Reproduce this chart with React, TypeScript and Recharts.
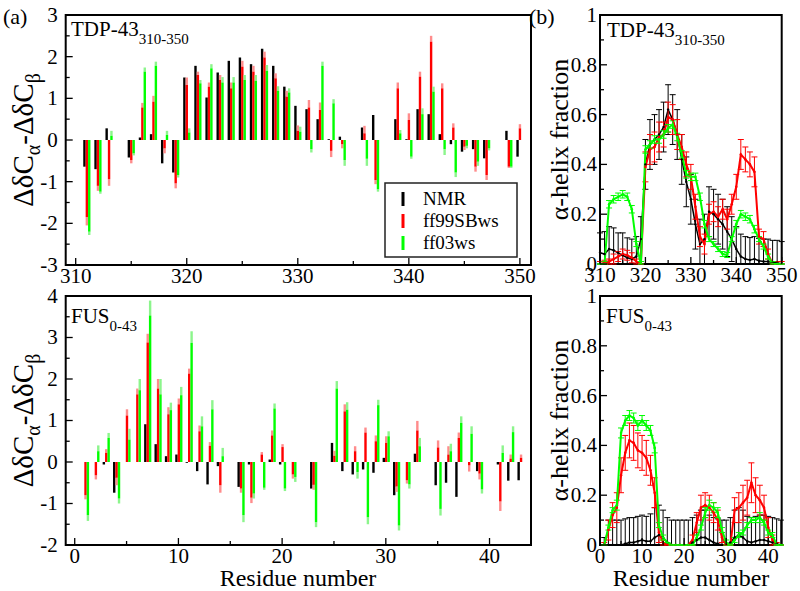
import { Bar, ComposedChart, ErrorBar, Line, ReferenceArea, XAxis, YAxis } from 'recharts';

const FONT = 'Liberation Serif, DejaVu Serif, serif';
const RED = '#ff0000';
const GREEN = '#00ff00';
const RED_ERR = '#ff8c8c';
const GREEN_ERR = '#8cf58c';

// (a) top: TDP-43 310-350, secondary chemical shifts per residue
const tdpResidues = [311, 312, 313, 315, 316, 317, 318, 319, 320, 321, 322, 323, 324, 325, 326, 327, 328, 329, 330,
  331, 332, 333, 334, 336, 337, 339, 340, 341, 342, 343, 344, 345, 346, 347, 349, 350];
const tdpNmr = [-0.64, -0.7, 0.28, -0.42, 0.06, 0.14, -0.56, -0.78, 1.5, 1.78, 1.02, 1.62, 1.9, 1.98, 1.82, 2.19, 1.78, 1.28, 0.82,
  0.74, 0.5, 0.02, 0.08, 0.3, 0.6, 0.5, 0.02, 0.74, 0.62, 0.14, -0.1, -0.28, -0.22, -0.44, 0.22, -0.4];
const tdpFf99 = [-1.85, -1.1, -0.94, -0.48, 0.78, 0.92, -0.2, -1.04, 1.32, 1.56, 1.28, 1.44, 1.24, 1.76, 1.64, 1.98, 1.48, 1.04, 0.22,
  0.78, 0.72, -0.26, -0.1, 0.16, -0.96, 1.24, 0.48, 1.52, 2.36, 1.24, 0.3, -0.16, -0.64, -0.84, -0.64, 0.28];
const tdpFf99Err = [0.2, 0.12, 0.16, 0.08, 0.11, 0.14, 0.12, 0.12, 0.18, 0.08, 0.1, 0.12, 0.14, 0.14, 0.14, 0.14, 0.12, 0.14, 0.13,
  0.18, 0.18, 0.15, 0.1, 0.18, 0.1, 0.14, 0.16, 0.12, 0.14, 0.12, 0.1, 0.08, 0.12, 0.12, 0.03, 0.1];
const tdpFf03 = [-2.2, -1.24, 0.1, -0.32, 1.64, 1.78, 0.12, -0.84, 0.18, 1.36, 1.72, 1.38, 1.38, 1.44, 1.42, 1.66, 1.18, 1.14, 0.2,
  -0.22, 1.78, 0.88, -0.48, -0.45, -1.18, 0.16, -0.4, 0.62, 1.16, -0.22, -0.78, -0.14, -0.52, -0.2, -0.64, null];
const tdpFf03Err = [0.08, 0.05, 0.12, 0.05, 0.1, 0.1, 0.1, 0.06, 0.1, 0.08, 0.1, 0.13, 0.13, 0.12, 0.14, 0.14, 0.11, 0.1, 0.12,
  0.08, 0.1, 0.1, 0.14, 0.17, 0.06, 0.08, 0.05, 0.14, 0.12, 0.14, 0.11, 0.06, 0.1, 0.05, 0.03, null];

// (a) bottom: FUS 0-43
const fusResidues = [1, 2, 3, 4, 5, 6, 7, 8, 9, 10, 11, 12, 13, 14, 16, 17, 18, 19, 20, 21, 23, 25, 26, 27, 28, 29, 30,
  31, 32, 33, 35, 36, 37, 38, 39, 41, 42, 43];
const fusNmr = [null, null, -0.06, -0.74, null, null, 0.91, 0.43, 0.14, 0.18, -0.02, -0.22, -0.54, -0.1, -0.6, -0.06, null, 0.06, -0.06, null, -0.64, 0.46, -0.22, -0.3, -0.18, -0.26, 0.1,
  -0.8, null, 0.2, -0.56, -0.5, -0.84, null, -0.22, -0.06, -0.45, -0.44];
const fusFf99 = [-0.8, -0.32, 0.22, -0.38, 1.12, 1.63, 2.88, 1.77, 1.15, 1.39, 2.13, 0.74, 0.39, -0.56, -0.64, -0.86, 0.18, 0.64, 0.36, -0.3, -0.55, 0.15, 1.22, 0.26, 0.71, 0.5, 0.46,
  -0.59, -0.44, 0.76, 0.35, 0.18, 0.58, -0.08, -0.28, -0.95, 0.08, 0.1];
const fusFf99Err = [0.1, 0.1, 0.09, 0.18, 0.15, 0.14, 0.21, 0.23, 0.17, 0.14, 0.12, 0.14, 0.09, 0.18, 0.1, 0.13, 0.06, 0.12, 0.07, 0.1, 0.12, 0.12, 0.17, 0.12, 0.12, 0.14, 0.16,
  0.13, 0.08, 0.23, 0.17, 0.2, 0.13, 0.15, 0.14, 0.23, 0.1, 0.08];
const fusFf03 = [-1.28, 0.26, 0.58, -0.88, 0.54, 1.73, 3.53, 1.63, 1.25, 1.61, 2.87, 0.86, 1.27, 0.14, -1.28, -0.76, -0.62, 1.29, -0.64, -0.36, -1.45, 1.77, 1.26, -0.24, -1.33, 1.37, 0.62,
  -1.53, -0.54, 0.38, -1.13, 0.26, 0.94, 0.68, -0.66, 0.22, 0.72, null];
const fusFf03Err = [0.14, 0.14, 0.12, 0.12, 0.26, 0.27, 0.36, 0.37, 0.18, 0.2, 0.28, 0.24, 0.22, 0.2, 0.17, 0.12, 0.05, 0.12, 0.06, 0.12, 0.12, 0.18, 0.18, 0.16, 0.17, 0.13, 0.12,
  0.12, 0.1, 0.2, 0.16, 0.18, 0.16, 0.18, 0.1, 0.18, 0.14, null];

// (b) top: helix fraction, TDP-43 310-350
const tdpHelixRes = [310, 311, 312, 313, 314, 315, 316, 317, 318, 319, 320, 321, 322, 323, 324, 325, 326, 327, 328, 329,
  330, 331, 332, 333, 334, 335, 336, 337, 338, 339, 340, 341, 342, 343, 344, 345, 346, 347, 348, 349, 350];
const tdpHelixNmr = [0.045, 0.04, 0.06, 0.055, 0.045, 0.035, 0.025, 0.02, 0.03, 0.1, 0.4, 0.48, 0.5, 0.52, 0.55, 0.62, 0.58, 0.52, 0.42, 0.33,
  0.26, 0.16, 0.08, 0.1, 0.21, 0.2, 0.18, 0.16, 0.13, 0.1, 0.06, 0.03, 0.02, 0.016, 0.02, 0.013, 0.01, 0.01, 0.005, 0.005, 0];
const tdpHelixNmrErr = [0.08, 0.09, 0.09, 0.09, 0.08, 0.09, 0.08, 0.08, 0.08, 0.09, 0.1, 0.1, 0.1, 0.1, 0.1, 0.1, 0.1, 0.1, 0.1, 0.1,
  0.1, 0.1, 0.1, 0.1, 0.1, 0.1, 0.1, 0.1, 0.1, 0.09, 0.09, 0.09, 0.09, 0.09, 0.09, 0.09, 0.09, 0.09, 0.09, 0.09, 0.09];
const tdpHelixFf99 = [0, 0.005, 0.01, 0.02, 0.03, 0.04, 0.035, 0.025, 0.01, 0, 0.39, 0.46, 0.47, 0.51, 0.52, 0.59, 0.58, 0.52, 0.47, 0.4,
  0.35, 0.23, 0.11, 0.08, 0.2, 0.21, 0.19, 0.22, 0.18, 0.24, 0.31, 0.44, 0.42, 0.4, 0.37, 0.11, 0.1, 0.04, 0, 0, 0];
const tdpHelixFf99Err = [0.01, 0.01, 0.01, 0.02, 0.02, 0.02, 0.02, 0.02, 0.01, 0.01, 0.06, 0.06, 0.06, 0.06, 0.05, 0.06, 0.06, 0.06, 0.05, 0.05,
  0.05, 0.05, 0.04, 0.04, 0.04, 0.04, 0.04, 0.04, 0.04, 0.04, 0.05, 0.06, 0.05, 0.05, 0.06, 0.03, 0.03, 0.02, 0.01, 0.01, 0.01];
const tdpHelixFf03 = [0, 0, 0.24, 0.26, 0.27, 0.28, 0.27, 0.22, 0.08, 0, 0.46, 0.48, 0.5, 0.5, 0.52, 0.545, 0.56, 0.51, 0.44, 0.36,
  0.35, 0.35, 0.27, 0.16, 0.1, 0.08, 0.06, 0.04, 0.036, 0.1, 0.16, 0.2, 0.19, 0.18, 0.14, 0.1, 0.07, 0.03, 0, 0, 0];
const tdpHelixFf03Err = [0, 0.01, 0.015, 0.015, 0.015, 0.015, 0.015, 0.015, 0.01, 0.01, 0.015, 0.015, 0.015, 0.015, 0.015, 0.015, 0.015, 0.015, 0.015, 0.015,
  0.015, 0.015, 0.015, 0.015, 0.01, 0.01, 0.01, 0.01, 0.01, 0.01, 0.015, 0.015, 0.015, 0.015, 0.015, 0.01, 0.01, 0.01, 0.01, 0, 0];

// (b) bottom: helix fraction, FUS 0-43
const fusHelixRes = [1, 2, 3, 4, 5, 6, 7, 8, 9, 10, 11, 12, 13, 14, 15, 16, 17, 18, 19, 20,
  21, 22, 23, 24, 25, 26, 27, 28, 29, 30, 31, 32, 33, 34, 35, 36, 37, 38, 39, 40, 41, 42, 43];
const fusHelixNmr = [0, 0, 0, 0, 0, 0.005, 0.01, 0.01, 0.015, 0.02, 0.015, 0.015, 0.03, 0.04, 0.03, 0.01, 0, 0, 0, 0,
  0, 0.01, 0.02, 0.03, 0.03, 0.02, 0.01, 0.005, 0, 0, 0.01, 0.03, 0.04, 0.03, 0.015, 0.01, 0.015, 0.02, 0.02, 0.015, 0.01, 0.005, 0];
const fusHelixNmrErr = [0.03, 0.1, 0.1, 0.1, 0.1, 0.1, 0.1, 0.1, 0.1, 0.1, 0.1, 0.11, 0.12, 0.12, 0.11, 0.1, 0.1, 0.1, 0.1, 0.1,
  0.1, 0.1, 0.1, 0.11, 0.11, 0.1, 0.1, 0.1, 0.1, 0.1, 0.1, 0.11, 0.11, 0.11, 0.1, 0.1, 0.1, 0.1, 0.1, 0.1, 0.1, 0.1, 0.1];
const fusHelixFf99 = [0, 0.06, 0.12, 0.15, 0.28, 0.37, 0.42, 0.41, 0.38, 0.37, 0.35, 0.3, 0.21, 0.05, 0.01, 0, 0, 0, 0, 0,
  0, 0.02, 0.09, 0.15, 0.16, 0.15, 0.13, 0.1, 0.03, 0, 0, 0.14, 0.15, 0.17, 0.19, 0.25, 0.2, 0.18, 0.15, 0.07, 0.02, 0, 0];
const fusHelixFf99Err = [0.01, 0.04, 0.05, 0.06, 0.07, 0.07, 0.07, 0.07, 0.07, 0.07, 0.07, 0.06, 0.06, 0.04, 0.01, 0, 0, 0, 0, 0,
  0, 0.02, 0.04, 0.05, 0.05, 0.05, 0.04, 0.04, 0.02, 0, 0, 0.05, 0.06, 0.07, 0.07, 0.08, 0.07, 0.06, 0.05, 0.04, 0.02, 0.01, 0];
const fusHelixFf03 = [0, 0.07, 0.14, 0.16, 0.45, 0.5, 0.52, 0.51, 0.48, 0.5, 0.48, 0.46, 0.39, 0.08, 0.03, 0.01, 0, 0, 0, 0,
  0, 0, 0.03, 0.07, 0.13, 0.16, 0.15, 0.13, 0.06, 0.01, 0, 0.02, 0.04, 0.05, 0.08, 0.1, 0.1, 0.11, 0.09, 0.05, 0.04, 0, 0];
const fusHelixFf03Err = [0, 0.01, 0.01, 0.02, 0.02, 0.02, 0.02, 0.02, 0.02, 0.02, 0.02, 0.02, 0.02, 0.01, 0.01, 0, 0, 0, 0, 0,
  0, 0, 0.01, 0.01, 0.02, 0.02, 0.02, 0.02, 0.01, 0.01, 0, 0.01, 0.01, 0.01, 0.01, 0.01, 0.01, 0.02, 0.01, 0.01, 0.01, 0, 0];

const shiftTicksTdp = [310, 315, 320, 325, 330, 335, 340, 345, 350];
const shiftTicksFus = [0, 5, 10, 15, 20, 25, 30, 35, 40];
const yTicksTdp = [-3, -2.5, -2, -1.5, -1, -0.5, 0, 0.5, 1, 1.5, 2, 2.5, 3];
const yTicksFus = [-2, -1.5, -1, -0.5, 0, 0.5, 1, 1.5, 2, 2.5, 3, 3.5, 4];
const helixTicks = [0, 0.1, 0.2, 0.3, 0.4, 0.5, 0.6, 0.7, 0.8, 0.9, 1];

const tdpBars = tdpResidues.map((r, i) => ({
  r, nmr: tdpNmr[i], ff99: tdpFf99[i], ff99Err: tdpFf99Err[i], ff03: tdpFf03[i], ff03Err: tdpFf03Err[i],
}));
const fusBars = fusResidues.map((r, i) => ({
  r, nmr: fusNmr[i], ff99: fusFf99[i], ff99Err: fusFf99Err[i], ff03: fusFf03[i], ff03Err: fusFf03Err[i],
}));

// error bars stop at 0 (the axis floor), so keep the lower arm no longer than the value
const helixRows = (res: number[], a: number[], ae: number[], b: number[], be: number[], c: number[], ce: number[]) =>
  res.map((r, i) => ({
    r,
    nmr: a[i], nmrE: [Math.min(a[i], ae[i]), ae[i]],
    ff99: b[i], ff99E: [Math.min(b[i], be[i]), be[i]],
    ff03: c[i], ff03E: [Math.min(c[i], ce[i]), ce[i]],
  }));
const tdpHelix = helixRows(tdpHelixRes, tdpHelixNmr, tdpHelixNmrErr, tdpHelixFf99, tdpHelixFf99Err, tdpHelixFf03, tdpHelixFf03Err);
const fusHelix = helixRows(fusHelixRes, fusHelixNmr, fusHelixNmrErr, fusHelixFf99, fusHelixFf99Err, fusHelixFf03, fusHelixFf03Err);

const txt = { fontFamily: FONT };

// bar plus a lighter extension for the error at its tip
function barShape(key: string, errKey: string | null, errColor: string) {
  return (p: any) => {
    const v = p.payload?.[key];
    if (v == null || !isFinite(p.height)) return <g />;
    const top = Math.min(p.y, p.y + p.height);
    const h = Math.abs(p.height);
    let ext = null;
    const e = errKey ? p.payload[errKey] : null;
    if (e && v !== 0 && h > 0) {
      const len = (e * h) / Math.abs(v);
      ext = <rect x={p.x} y={v > 0 ? top - len : top + h} width={p.width} height={len} fill={errColor} />;
    }
    return (
      <g>
        {ext}
        <rect x={p.x} y={top} width={p.width} height={h} fill={p.fill} />
      </g>
    );
  };
}

function xTick(isMajor: (v: number) => boolean) {
  return (p: any) => {
    const v = p.payload.value as number;
    const major = isMajor(v);
    return (
      <g>
        <line x1={p.x} x2={p.x} y1={p.y} y2={p.y - (major ? 7 : 4)} stroke="#000" strokeWidth={1.3} />
        {major && (
          <text x={p.x} y={p.y + 18} textAnchor="middle" style={txt} fontSize={21} fill="#000">{v}</text>
        )}
      </g>
    );
  };
}

function yTick(isMajor: (v: number) => boolean, gap: number, fmt: (v: number) => string) {
  return (p: any) => {
    const v = p.payload.value as number;
    const major = isMajor(v);
    return (
      <g>
        <line x1={p.x} x2={p.x + (major ? 7 : 4)} y1={p.y} y2={p.y} stroke="#000" strokeWidth={1.3} />
        {major && (
          <text x={p.x - gap} y={p.y} dy="0.33em" textAnchor="end" style={txt} fontSize={21} fill="#000">{fmt(v)}</text>
        )}
      </g>
    );
  };
}

const isTen = (v: number) => Math.abs(v % 10) < 1e-6;
const isInt = (v: number) => Math.abs(v - Math.round(v)) < 1e-6;
const isFifth = (v: number) => Math.round(v * 10) % 2 === 0;
const fmtHelix = (v: number) => (v === 0 ? '0' : v === 1 ? '1' : v.toFixed(1));

interface ShiftProps {
  rows: any[];
  top: number;
  xDomain: [number, number];
  xTicks: number[];
  yDomain: [number, number];
  yTicks: number[];
}

function ShiftPanel({ rows, top, xDomain, xTicks, yDomain, yTicks }: ShiftProps) {
  return (
    <ComposedChart width={545} height={300} data={rows} barGap={0} margin={{ top, right: 14, bottom: 5, left: 0 }}>
      <XAxis type="number" dataKey="r" domain={xDomain} ticks={xTicks} interval={0} height={300 - 5 - top - (top === 15 ? 250 : 249)}
        axisLine={false} tickLine={false} tickSize={0} tickMargin={0} tick={xTick(isTen)} />
      <YAxis type="number" domain={yDomain} ticks={yTicks} interval={0} width={65.7}
        axisLine={false} tickLine={false} tickSize={0} tickMargin={0} tick={yTick(isInt, 8, (v) => String(v))} />
      <Bar dataKey="nmr" fill="#000" barSize={2.4} isAnimationActive={false} shape={barShape('nmr', null, '')} />
      <Bar dataKey="ff99" fill={RED} barSize={2.4} isAnimationActive={false} shape={barShape('ff99', 'ff99Err', RED_ERR)} />
      <Bar dataKey="ff03" fill={GREEN} barSize={2.4} isAnimationActive={false} shape={barShape('ff03', 'ff03Err', GREEN_ERR)} />
      <ReferenceArea x1={xDomain[0]} x2={xDomain[1]} y1={yDomain[0]} y2={yDomain[1]} fill="none" fillOpacity={0}
        stroke="#000" strokeWidth={2} ifOverflow="visible" />
    </ComposedChart>
  );
}

interface HelixProps {
  rows: any[];
  top: number;
  xDomain: [number, number];
  xTicks: number[];
}

function HelixPanel({ rows, top, xDomain, xTicks }: HelixProps) {
  const plotH = 249;
  return (
    <ComposedChart width={260} height={300} data={rows} margin={{ top, right: 18.3, bottom: 5, left: 0 }}>
      <XAxis type="number" dataKey="r" domain={xDomain} ticks={xTicks} interval={0} height={300 - 5 - top - plotH}
        axisLine={false} tickLine={false} tickSize={0} tickMargin={0} tick={xTick(isTen)} />
      <YAxis type="number" domain={[0, 1]} ticks={helixTicks} interval={0} width={60} allowDataOverflow
        axisLine={false} tickLine={false} tickSize={0} tickMargin={0} tick={yTick(isFifth, 3, fmtHelix)} />
      <Line type="linear" dataKey="nmr" stroke="#000" strokeWidth={1.5} dot={{ r: 1.2, fill: '#000', stroke: '#000', strokeWidth: 0 }}
        isAnimationActive={false}>
        <ErrorBar dataKey="nmrE" width={3} stroke="#000" strokeWidth={1} direction="y" />
      </Line>
      <Line type="linear" dataKey="ff99" stroke={RED} strokeWidth={2} dot={{ r: 1.3, fill: RED, stroke: RED, strokeWidth: 0 }}
        isAnimationActive={false}>
        <ErrorBar dataKey="ff99E" width={3} stroke={RED} strokeWidth={1} direction="y" />
      </Line>
      <Line type="linear" dataKey="ff03" stroke={GREEN} strokeWidth={2} dot={{ r: 1.3, fill: GREEN, stroke: GREEN, strokeWidth: 0 }}
        isAnimationActive={false}>
        <ErrorBar dataKey="ff03E" width={3} stroke={GREEN} strokeWidth={1} direction="y" />
      </Line>
      <ReferenceArea x1={xDomain[0]} x2={xDomain[1]} y1={0} y2={1} fill="none" fillOpacity={0}
        stroke="#000" strokeWidth={2} ifOverflow="visible" />
    </ComposedChart>
  );
}

function Title({ x, y, main, sub }: { x: number; y: number; main: string; sub: string }) {
  return (
    <text x={x} y={y} style={txt} fontSize={21} fill="#000">
      {main}
      <tspan dy={8} fontSize={15}>{sub}</tspan>
    </text>
  );
}

function ShiftLabel({ cy }: { cy: number }) {
  return (
    <text transform={`translate(33,${cy}) rotate(-90)`} textAnchor="middle" style={txt} fontSize={29} fill="#000">
      ΔδC<tspan dy={7} fontSize={20}>α</tspan>
      <tspan dy={-7}>-ΔδC</tspan>
      <tspan dy={7} fontSize={20}>β</tspan>
    </text>
  );
}

const legendItems = [
  { name: 'NMR', color: '#000' },
  { name: 'ff99SBws', color: RED },
  { name: 'ff03ws', color: GREEN },
];

export default function App() {
  return (
    <div style={{ position: 'absolute', left: 0, top: 0, width: 800, height: 591, background: '#fff', overflow: 'hidden', fontFamily: FONT }}>
      <div style={{ position: 'absolute', left: 0, top: 0 }}>
        <ShiftPanel rows={tdpBars} top={15} xDomain={[309.1, 351]} xTicks={shiftTicksTdp} yDomain={[-3, 3]} yTicks={yTicksTdp} />
      </div>
      <div style={{ position: 'absolute', left: 0, top: 280 }}>
        <ShiftPanel rows={fusBars} top={16} xDomain={[-0.87, 44]} xTicks={shiftTicksFus} yDomain={[-2, 4]} yTicks={yTicksFus} />
      </div>
      <div style={{ position: 'absolute', left: 540, top: 0 }}>
        <HelixPanel rows={tdpHelix} top={15} xDomain={[310, 350]} xTicks={shiftTicksTdp} />
      </div>
      <div style={{ position: 'absolute', left: 540, top: 280 }}>
        <HelixPanel rows={fusHelix} top={16} xDomain={[0, 43.2]} xTicks={shiftTicksFus} />
      </div>

      <svg width={800} height={591} style={{ position: 'absolute', left: 0, top: 0, pointerEvents: 'none' }}>
        <text x={3} y={24} style={txt} fontSize={22} fill="#000">(a)</text>
        <text x={529} y={24} style={txt} fontSize={22} fill="#000">(b)</text>

        <Title x={71} y={36} main="TDP-43" sub="310-350" />
        <Title x={71} y={323} main="FUS" sub="0-43" />
        <Title x={607} y={37} main="TDP-43" sub="310-350" />
        <Title x={606} y={323} main="FUS" sub="0-43" />

        <ShiftLabel cy={140} />
        <ShiftLabel cy={420.5} />
        <text transform="translate(568,139.5) rotate(-90)" textAnchor="middle" style={txt} fontSize={26} fill="#000">α-helix fraction</text>
        <text transform="translate(568,420.5) rotate(-90)" textAnchor="middle" style={txt} fontSize={26} fill="#000">α-helix fraction</text>
        <text x={298} y={585.5} textAnchor="middle" style={txt} fontSize={24} fill="#000">Residue number</text>
        <text x={691} y={585.5} textAnchor="middle" style={txt} fontSize={24} fill="#000">Residue number</text>

        <rect x={385} y={183} width={132} height={74} fill="#fff" stroke="#222" strokeWidth={1.5} />
        {legendItems.map((it, i) => (
          <g key={it.name}>
            <rect x={401.5} y={192 + i * 22} width={3} height={14} fill={it.color} />
            <text x={423} y={205 + i * 22} style={txt} fontSize={19} fill="#000">{it.name}</text>
          </g>
        ))}
      </svg>
    </div>
  );
}
